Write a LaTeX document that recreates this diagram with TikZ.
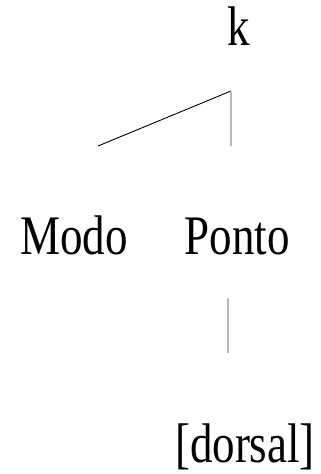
\documentclass[tikz,border=0pt]{standalone}
\usepackage{fontspec}
\setmainfont{Liberation Serif}
\usepackage{tikz}
\usetikzlibrary{calc,positioning}

\begin{document}
\begin{tikzpicture}[x=1pt,y=1pt]

% --- STYLES ---
\tikzset{
  featlabel/.style={font=\fontsize{45}{50}\selectfont, inner sep=0pt,
                    anchor=base, yscale=1.24, transform shape},
  branch/.style={black, line width=0.9pt},
  stem/.style={black!28, line width=1.3pt},
}

\useasboundingbox (0,0) rectangle (321,474);

% ================= LABELS =================
\node[featlabel] (k)      at (239,428) {k};
\node[featlabel] (modo)   at (74,219)  {Modo};
\node[featlabel] (ponto)  at (237,219) {Ponto};
\node[featlabel] (dorsal) at (245,11)  {[dorsal]};

% ================= BRANCH POINTS =================
\coordinate (kfoot)    at (231,383);
\coordinate (modotop)  at (98,328);
\coordinate (pontotop) at (231,328);
\coordinate (dtop)     at (228,176);
\coordinate (dfoot)    at (228,121);

% ================= LINES =================
\draw[branch] (kfoot) -- (modotop);
\draw[stem] (kfoot) -- (pontotop);
\draw[stem] (dtop) -- (dfoot);

\end{tikzpicture}
\end{document}
